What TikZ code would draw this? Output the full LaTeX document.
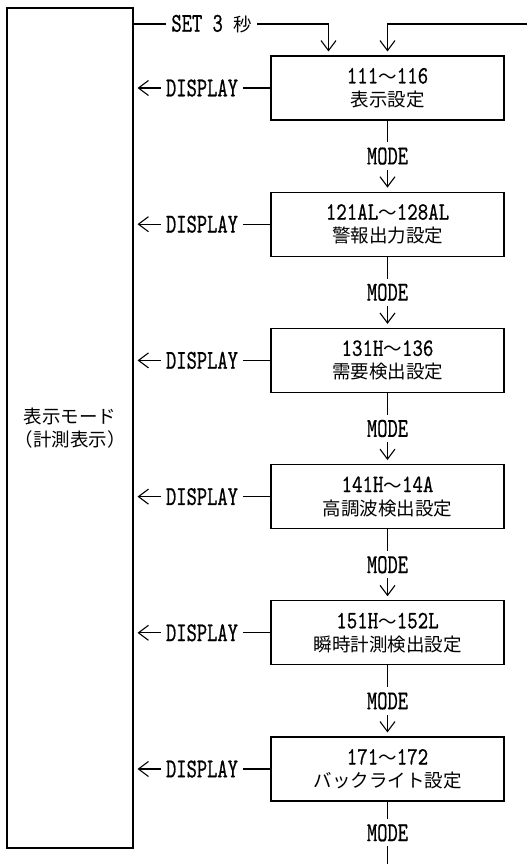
\documentclass[tikz,border=0pt]{standalone}
\usepackage{fontspec}
\usepackage{tikz}
\usetikzlibrary{arrows.meta}
\setmainfont{Noto Sans CJK JP}
\newfontfamily\labelfont[FakeStretch=0.72,Scale=1.47,FakeBold=0.6]{lmmono10-regular.otf}
\newfontfamily\codefont[FakeStretch=0.8,Scale=1.35,FakeBold=0.6]{lmmono10-regular.otf}

\tikzset{
    setbox/.style={draw,line width=1.1pt,minimum width=233pt,minimum height=64pt,align=center,inner sep=0pt},
    arr/.style={line width=1.1pt,-{Straight Barb[length=10pt,width=15pt]},shorten >=4pt},
    lbl/.style={fill=white,inner sep=5pt}
}

\begin{document}
\begin{tikzpicture}[x=1pt,y=-1pt,font=\fontsize{18.5}{23}\selectfont]
    \useasboundingbox (0,0) rectangle (527,864);
    \node[draw,line width=1.1pt,minimum width=126pt,minimum height=840pt,align=center] (disp) at (70,428) {表示モード\\（計測表示）};
    \foreach \i/\from/\upto/\name in {1/111/116/表示設定, 2/121AL/128AL/警報出力設定, 3/131H/136/需要検出設定,
                                      4/141H/14A/高調波検出設定, 5/151H/152L/瞬時計測検出設定, 6/171/172/バックライト設定} {
        \node[setbox] (s\i) at (387.5,{88+136.2*(\i-1)}) {{\codefont\from}～{\codefont\upto}\\\name};
        \draw[arr] (s\i.west) -- node[lbl]{\labelfont DISPLAY} (s\i.west -| disp.east);
    }
    \foreach \i in {1,...,5} {
        \pgfmathtruncatemacro\j{\i+1}
        \draw[arr] (s\i.south) -- node[lbl]{\labelfont MODE} (s\j.north);
    }
    % entry from top
    \coordinate (top) at (0,24);
    \coordinate (back) at (527,24);
    \coordinate (tail) at (387.5,864);
    \draw[arr] (disp.east |- top) -| node[lbl,pos=0.2]{{\labelfont SET 3 }秒} ([xshift=-59pt]s1.north);
    \draw[arr] (back) -| (s1.north);
    \draw[line width=1.1pt] (s6.south) -- node[lbl]{\labelfont MODE} (tail);
\end{tikzpicture}
\end{document}
